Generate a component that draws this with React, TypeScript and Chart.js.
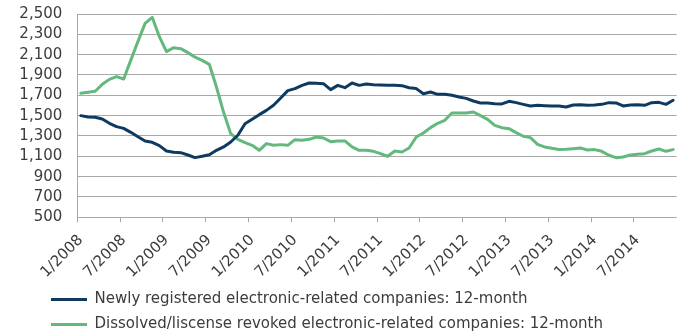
import React, { useEffect, useRef } from 'react';
import { Chart, registerables } from 'chart.js';

Chart.register(...registerables);

// ---- data ----
const YEARS = [2008, 2009, 2010, 2011, 2012, 2013, 2014];
const MONTHS = [1, 2, 3, 4, 5, 6, 7, 8, 9, 10, 11, 12];
const CATEGORIES: string[] = [];
YEARS.forEach((y) => MONTHS.forEach((m) => CATEGORIES.push(`${m}/${y}`)));

const NEWLY_REGISTERED = [
  1500, 1487, 1484, 1467, 1425, 1392, 1375, 1336, 1293, 1251, 1238, 1205,
  1153, 1140, 1136, 1113, 1087, 1100, 1116, 1159, 1192, 1241, 1307, 1421,
  1464, 1510, 1552, 1602, 1674, 1746, 1766, 1798, 1821, 1818, 1815, 1756,
  1798, 1775, 1821, 1798, 1811, 1805, 1802, 1798, 1798, 1795, 1775, 1766,
  1716, 1733, 1710, 1710, 1700, 1684, 1670, 1644, 1625, 1625, 1618, 1615,
  1641, 1628, 1611, 1595, 1602, 1598, 1595, 1594, 1585, 1605, 1608, 1602,
  1605, 1611, 1628, 1625, 1595, 1605, 1608, 1602, 1628, 1631, 1611, 1651,
];

const DISSOLVED = [
  1720, 1730, 1740, 1808, 1857, 1884, 1861, 2046, 2231, 2408, 2467, 2277,
  2130, 2169, 2159, 2120, 2075, 2044, 2005, 1782, 1533, 1323, 1267, 1234,
  1208, 1159, 1225, 1208, 1215, 1208, 1264, 1257, 1267, 1290, 1280, 1244,
  1251, 1251, 1192, 1159, 1159, 1149, 1126, 1100, 1152, 1143, 1182, 1290,
  1330, 1382, 1425, 1454, 1526, 1526, 1526, 1536, 1500, 1464, 1405, 1382,
  1372, 1333, 1297, 1284, 1218, 1192, 1179, 1168, 1169, 1175, 1182, 1162,
  1166, 1149, 1110, 1087, 1093, 1113, 1120, 1126, 1152, 1172, 1149, 1166,
];

const SERIES_NAMES = [
  'Newly registered electronic-related companies: 12-month',
  'Dissolved/liscense revoked electronic-related companies: 12-month',
];

const Y_MIN = 500;
const Y_MAX = 2500;
const Y_STEP = 200;
const LABEL_EVERY = 6;

// ---- styles ----
const NAVY = '#0f3a60';
const GREEN = '#63b97d';
const GRID = '#a8a8a8';
const TEXT = '#3c3c3c';
const FONT = "'DejaVu Sans', sans-serif";

const legendShift = {
  id: 'legendShift',
  afterLayout(chart: any) {
    if (chart.legend) {
      chart.legend.left = 41;
      chart.legend.top = 282;
    }
  },
};

export default function App() {
  const ref = useRef<HTMLCanvasElement | null>(null);

  useEffect(() => {
    if (!ref.current) return;
    const chart = new Chart(ref.current, {
      type: 'line',
      data: {
        labels: CATEGORIES,
        datasets: [
          {
            label: SERIES_NAMES[0],
            data: NEWLY_REGISTERED,
            borderColor: NAVY,
            backgroundColor: NAVY,
            borderWidth: 3,
            pointRadius: 0,
            tension: 0,
            borderJoinStyle: 'round',
            borderCapStyle: 'round',
          },
          {
            label: SERIES_NAMES[1],
            data: DISSOLVED,
            borderColor: GREEN,
            backgroundColor: GREEN,
            borderWidth: 3,
            pointRadius: 0,
            tension: 0,
            borderJoinStyle: 'round',
            borderCapStyle: 'round',
          },
        ],
      },
      options: {
        responsive: false,
        animation: false,
        layout: { padding: { left: 0, right: 3.3, top: 14, bottom: 0 } },
        plugins: {
          tooltip: { enabled: false },
          legend: {
            position: 'bottom',
            align: 'start',
            maxHeight: 50,
            labels: {
              boxWidth: 36,
              boxHeight: 3,
              padding: 10,
              color: TEXT,
              font: { family: FONT, size: 15 },
              generateLabels: (c: any) =>
                (Chart.defaults.plugins.legend.labels.generateLabels as any)(c).map((l: any) => ({
                  ...l,
                  lineWidth: 0,
                })),
            },
          },
        },
        scales: {
          x: {
            type: 'category',
            offset: true,
            afterFit: (s: any) => {
              s.height = 68.7;
              s.paddingRight = 0;
              s.paddingLeft = 0;
            },
            grid: {
              offset: true,
              drawOnChartArea: false,
              drawTicks: true,
              tickLength: 5,
              color: (ctx: any) => (ctx.index % LABEL_EVERY === 0 ? GRID : 'rgba(0,0,0,0)'),
            },
            border: { display: false },
            ticks: {
              autoSkip: false,
              minRotation: 45,
              maxRotation: 45,
              padding: 9,
              color: TEXT,
              font: { family: FONT, size: 15 },
              callback: (_v: any, i: number) => (i % LABEL_EVERY === 0 ? CATEGORIES[i] : ''),
            },
          },
          y: {
            min: Y_MIN,
            max: Y_MAX,
            afterFit: (s: any) => {
              s.width = 77.3;
            },
            grid: {
              color: GRID,
              drawTicks: true,
              tickLength: 15,
              tickColor: 'rgba(0,0,0,0)',
              lineWidth: 1,
            },
            border: { display: true, color: GRID },
            ticks: {
              stepSize: Y_STEP,
              autoSkip: false,
              padding: 0,
              color: TEXT,
              font: { family: FONT, size: 15 },
              callback: (v: any) => Number(v).toLocaleString('en-US'),
            },
          },
        },
      },
      plugins: [legendShift],
    } as any);
    return () => chart.destroy();
  }, []);

  return (
    <div style={{ position: 'fixed', left: 0, top: 0, width: 680, height: 336, background: '#fff' }}>
      <canvas ref={ref} width={680} height={336} style={{ display: 'block' }} />
    </div>
  );
}
